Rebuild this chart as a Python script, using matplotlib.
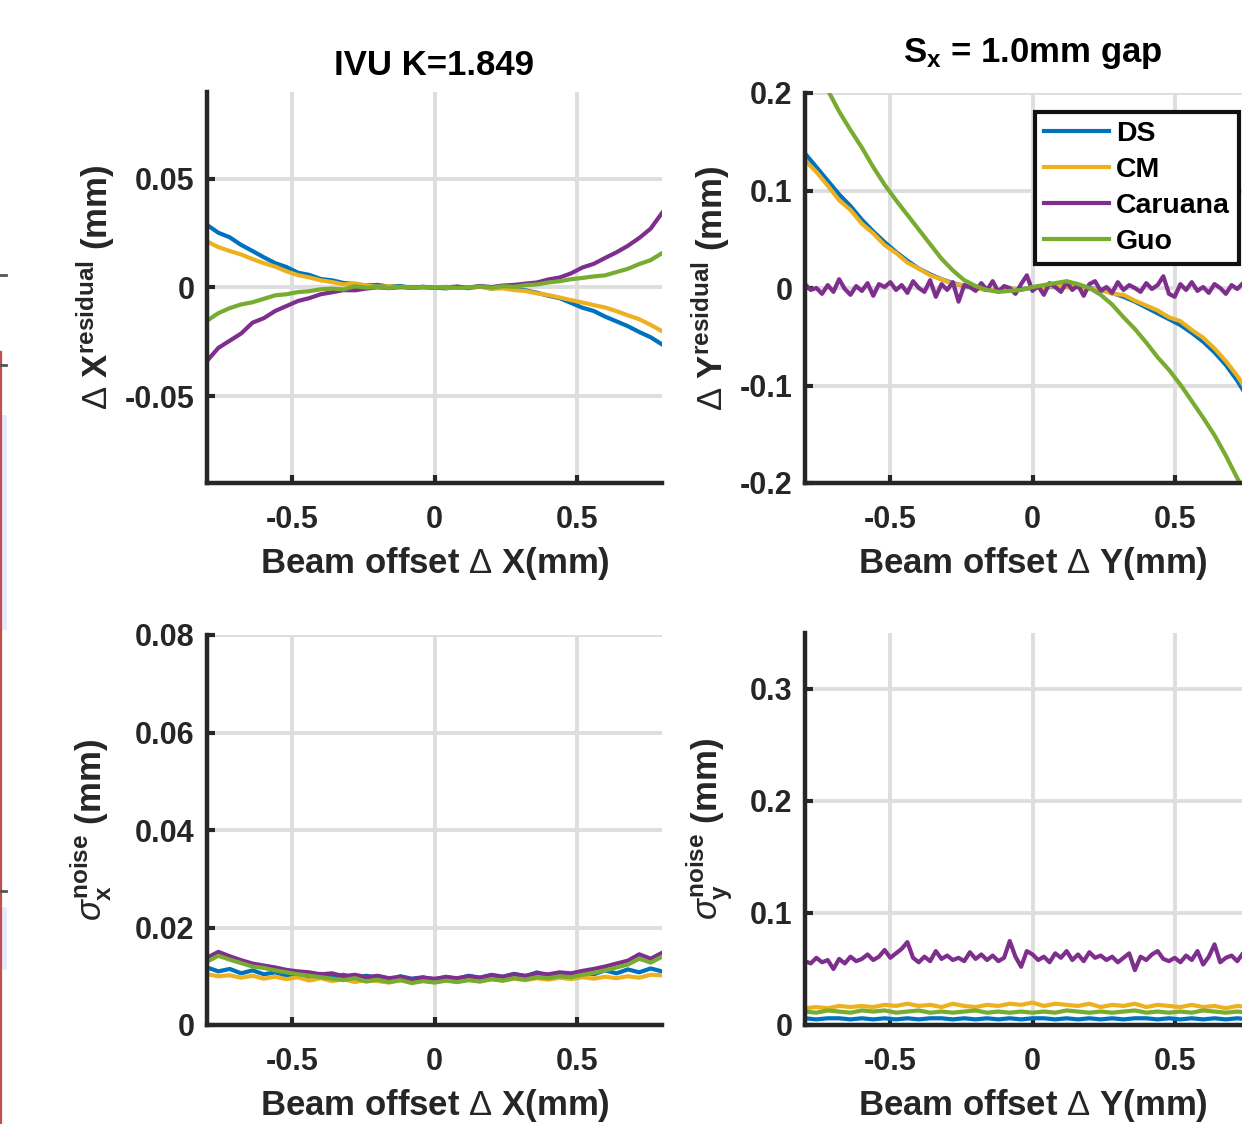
import numpy as np
import matplotlib
matplotlib.use('Agg')
from matplotlib import pyplot as plt
from matplotlib.lines import Line2D
from matplotlib.patches import Rectangle

# sample positions (mm)
x = [-0.80, -0.76, -0.72, -0.68, -0.64, -0.60, -0.56, -0.52, -0.48, -0.44,
     -0.40, -0.36, -0.32, -0.28, -0.24, -0.20, -0.16, -0.12, -0.08, -0.04,
     0.00, 0.04, 0.08, 0.12, 0.16, 0.20, 0.24, 0.28, 0.32, 0.36,
     0.40, 0.44, 0.48, 0.52, 0.56, 0.60, 0.64, 0.68, 0.72, 0.76, 0.80]
x_fine = [-0.80, -0.78, -0.76, -0.74, -0.72, -0.70, -0.68, -0.66, -0.64, -0.62,
          -0.60, -0.58, -0.56, -0.54, -0.52, -0.50, -0.48, -0.46, -0.44, -0.42,
          -0.40, -0.38, -0.36, -0.34, -0.32, -0.30, -0.28, -0.26, -0.24, -0.22,
          -0.20, -0.18, -0.16, -0.14, -0.12, -0.10, -0.08, -0.06, -0.04, -0.02,
          0.00, 0.02, 0.04, 0.06, 0.08, 0.10, 0.12, 0.14, 0.16, 0.18,
          0.20, 0.22, 0.24, 0.26, 0.28, 0.30, 0.32, 0.34, 0.36, 0.38,
          0.40, 0.42, 0.44, 0.46, 0.48, 0.50, 0.52, 0.54, 0.56, 0.58,
          0.60, 0.62, 0.64, 0.66, 0.68, 0.70, 0.72, 0.74, 0.76, 0.78, 0.80]

# residual in x (top left)
resx_ds = [0.0288, 0.0252, 0.0231, 0.0196, 0.0168, 0.0139, 0.0112, 0.0094, 0.0068, 0.0058,
           0.0039, 0.0033, 0.0021, 0.0016, 0.0009, 0.0012, 0.0004, 0.0007, -0.0002, 0.0003,
           0.0000, -0.0004, 0.0002, -0.0003, 0.0006, -0.0005, 0.0002, -0.0009, -0.0013, -0.0024,
           -0.0038, -0.0049, -0.0071, -0.0093, -0.0108, -0.0134, -0.0156, -0.0178, -0.0205, -0.0229, -0.0262]
resx_cm = [0.0212, 0.0186, 0.0168, 0.0152, 0.0131, 0.0112, 0.0096, 0.0074, 0.0057, 0.0046,
           0.0033, 0.0025, 0.0014, 0.0019, 0.0008, 0.0004, 0.0006, 0.0001, 0.0003, -0.0002,
           0.0001, -0.0003, 0.0004, -0.0002, 0.0003, -0.0006, -0.0004, -0.0012, -0.0016, -0.0027,
           -0.0035, -0.0046, -0.0058, -0.0069, -0.0081, -0.0092, -0.0109, -0.0128, -0.0146, -0.0172, -0.0201]
resx_car = [-0.0338, -0.0278, -0.0245, -0.0212, -0.0162, -0.0141, -0.0108, -0.0085, -0.0062, -0.0049,
            -0.0031, -0.0022, -0.0012, -0.0013, -0.0005, 0.0001, -0.0003, 0.0002, -0.0001, 0.0003,
            -0.0002, 0.0001, 0.0004, -0.0001, 0.0007, 0.0002, 0.0009, 0.0012, 0.0018, 0.0023,
            0.0037, 0.0046, 0.0065, 0.0092, 0.0109, 0.0136, 0.0162, 0.0192, 0.0228, 0.0271, 0.0343]
resx_guo = [-0.0153, -0.0118, -0.0095, -0.0078, -0.0068, -0.0052, -0.0036, -0.0031, -0.0021, -0.0017,
            -0.0008, -0.0005, -0.0009, 0.0006, -0.0001, 0.0003, -0.0002, 0.0004, -0.0001, 0.0002,
            -0.0001, 0.0003, -0.0002, 0.0001, 0.0005, -0.0001, 0.0006, 0.0003, 0.0011, 0.0014,
            0.0023, 0.0029, 0.0038, 0.0044, 0.0051, 0.0056, 0.0071, 0.0086, 0.0108, 0.0126, 0.0158]

# residual in y (top right)
resy_ds = [0.138, 0.124, 0.110, 0.096, 0.084, 0.070, 0.058, 0.047, 0.037, 0.028,
           0.020, 0.014, 0.009, 0.005, 0.002, 0.000, -0.002, -0.002, -0.001, -0.001,
           0.000, 0.001, 0.002, 0.002, 0.001, 0.000, -0.002, -0.005, -0.009, -0.014,
           -0.020, -0.026, -0.032, -0.038, -0.046, -0.055, -0.066, -0.079, -0.095, -0.114, -0.134]
resy_cm = [0.131, 0.119, 0.105, 0.090, 0.080, 0.066, 0.056, 0.044, 0.036, 0.026,
           0.020, 0.013, 0.009, 0.004, 0.003, -0.001, -0.001, -0.003, 0.000, -0.002,
           0.001, 0.000, 0.003, 0.001, 0.002, -0.001, -0.001, -0.006, -0.007, -0.013,
           -0.018, -0.023, -0.030, -0.034, -0.043, -0.051, -0.062, -0.075, -0.090, -0.108, -0.127]
resy_car = [0.004, -0.002, 0.000, -0.006, 0.003, -0.004, 0.009, -0.001, -0.007, 0.002,
            -0.003, 0.005, -0.008, 0.004, 0.001, 0.006, -0.002, 0.003, -0.005, 0.007,
            0.000, -0.004, 0.008, -0.009, 0.004, -0.002, 0.006, -0.014, 0.003, 0.001,
            -0.003, 0.005, -0.002, 0.007, -0.004, 0.002, 0.000, -0.006, 0.004, 0.013,
            -0.003, 0.002, -0.007, 0.005, 0.001, -0.004, 0.006, -0.002, 0.003, -0.008,
            0.004, 0.007, -0.003, 0.001, -0.005, 0.006, -0.002, 0.003, 0.000, -0.004,
            0.005, -0.001, 0.003, 0.012, -0.006, -0.009, 0.004, -0.002, 0.006, -0.003,
            0.001, -0.005, 0.004, 0.000, -0.006, 0.003, -0.001, 0.005, -0.004, 0.002, -0.003]
resy_guo = [0.248, 0.225, 0.203, 0.181, 0.162, 0.144, 0.124, 0.106, 0.090, 0.075,
            0.060, 0.045, 0.030, 0.018, 0.008, 0.002, -0.002, -0.004, -0.003, -0.002,
            0.001, 0.003, 0.005, 0.007, 0.004, 0.000, -0.007, -0.017, -0.030, -0.042,
            -0.056, -0.071, -0.084, -0.099, -0.116, -0.133, -0.151, -0.172, -0.195, -0.216, -0.240]

# noise in x (bottom left)
nx_ds = [0.0118, 0.0110, 0.0115, 0.0106, 0.0112, 0.0104, 0.0108, 0.0101, 0.0107, 0.0099,
         0.0105, 0.0098, 0.0103, 0.0096, 0.0101, 0.0097, 0.0093, 0.0100, 0.0095, 0.0098,
         0.0093, 0.0099, 0.0095, 0.0101, 0.0097, 0.0103, 0.0099, 0.0105, 0.0100, 0.0108,
         0.0102, 0.0106, 0.0100, 0.0109, 0.0104, 0.0112, 0.0106, 0.0114, 0.0108, 0.0116, 0.0110]
nx_cm = [0.0104, 0.0100, 0.0102, 0.0097, 0.0101, 0.0095, 0.0099, 0.0094, 0.0098, 0.0091,
         0.0096, 0.0090, 0.0094, 0.0088, 0.0093, 0.0090, 0.0087, 0.0092, 0.0089, 0.0091,
         0.0088, 0.0092, 0.0089, 0.0093, 0.0090, 0.0094, 0.0091, 0.0095, 0.0092, 0.0096,
         0.0093, 0.0097, 0.0094, 0.0098, 0.0095, 0.0099, 0.0096, 0.0100, 0.0097, 0.0103, 0.0102]
nx_car = [0.0138, 0.0150, 0.0141, 0.0133, 0.0126, 0.0122, 0.0118, 0.0113, 0.0110, 0.0108,
          0.0104, 0.0106, 0.0100, 0.0103, 0.0098, 0.0101, 0.0096, 0.0099, 0.0094, 0.0097,
          0.0095, 0.0098, 0.0096, 0.0100, 0.0097, 0.0102, 0.0099, 0.0104, 0.0101, 0.0106,
          0.0104, 0.0108, 0.0106, 0.0111, 0.0115, 0.0120, 0.0126, 0.0132, 0.0145, 0.0136, 0.0148]
nx_guo = [0.0130, 0.0142, 0.0134, 0.0127, 0.0120, 0.0117, 0.0112, 0.0108, 0.0104, 0.0101,
          0.0098, 0.0095, 0.0092, 0.0096, 0.0089, 0.0093, 0.0088, 0.0092, 0.0086, 0.0090,
          0.0087, 0.0091, 0.0088, 0.0092, 0.0089, 0.0094, 0.0091, 0.0096, 0.0093, 0.0098,
          0.0096, 0.0100, 0.0098, 0.0103, 0.0107, 0.0112, 0.0118, 0.0124, 0.0136, 0.0128, 0.0140]

# noise in y (bottom right)
ny_ds = [0.006, 0.005, 0.006, 0.006, 0.005, 0.006, 0.005, 0.006, 0.005, 0.006,
         0.005, 0.006, 0.006, 0.005, 0.006, 0.005, 0.006, 0.005, 0.006, 0.005,
         0.006, 0.006, 0.005, 0.006, 0.005, 0.006, 0.005, 0.006, 0.005, 0.006,
         0.006, 0.005, 0.006, 0.005, 0.006, 0.005, 0.006, 0.005, 0.006, 0.005, 0.006]
ny_cm = [0.015, 0.016, 0.015, 0.017, 0.016, 0.017, 0.016, 0.018, 0.017, 0.019,
         0.017, 0.018, 0.016, 0.019, 0.017, 0.016, 0.018, 0.017, 0.019, 0.018,
         0.020, 0.017, 0.019, 0.018, 0.017, 0.019, 0.016, 0.018, 0.017, 0.019,
         0.016, 0.018, 0.017, 0.016, 0.018, 0.016, 0.017, 0.015, 0.017, 0.016, 0.017]
ny_car = [0.057, 0.055, 0.060, 0.056, 0.058, 0.050, 0.059, 0.055, 0.061, 0.057,
          0.059, 0.063, 0.058, 0.061, 0.067, 0.060, 0.064, 0.068, 0.074, 0.060,
          0.056, 0.061, 0.057, 0.066, 0.059, 0.062, 0.058, 0.060, 0.057, 0.065,
          0.059, 0.063, 0.058, 0.062, 0.057, 0.060, 0.075, 0.061, 0.052, 0.066,
          0.063, 0.058, 0.061, 0.056, 0.064, 0.060, 0.066, 0.058, 0.063, 0.057,
          0.065, 0.060, 0.062, 0.058, 0.061, 0.056, 0.060, 0.064, 0.049, 0.061,
          0.058, 0.063, 0.066, 0.059, 0.057, 0.060, 0.056, 0.062, 0.058, 0.066,
          0.054, 0.061, 0.072, 0.056, 0.060, 0.062, 0.057, 0.064, 0.058, 0.060, 0.059]
ny_guo = [0.012, 0.011, 0.013, 0.012, 0.011, 0.013, 0.012, 0.013, 0.011, 0.012,
          0.013, 0.011, 0.012, 0.011, 0.012, 0.013, 0.011, 0.012, 0.011, 0.012,
          0.011, 0.012, 0.011, 0.013, 0.012, 0.011, 0.012, 0.011, 0.012, 0.013,
          0.011, 0.012, 0.011, 0.012, 0.011, 0.013, 0.012, 0.011, 0.012, 0.011, 0.012]

names = ['DS', 'CM', 'Caruana', 'Guo']
colors = ['#0072BD', '#EDB120', '#7E2F8E', '#77AC30']

plt.rcParams['font.family'] = ['Liberation Sans', 'DejaVu Sans']
plt.rcParams['font.weight'] = 'bold'
plt.rcParams['mathtext.fontset'] = 'custom'
plt.rcParams['mathtext.rm'] = 'Liberation Sans:weight=normal'
plt.rcParams['mathtext.bf'] = 'Liberation Sans:bold'
plt.rcParams['mathtext.it'] = 'Liberation Sans:italic:weight=normal'
plt.rcParams['mathtext.default'] = 'bf'

W, H = 1242, 1124
fig = plt.figure(figsize=(W / 100, H / 100), dpi=100)
axc = '#262626'
lw = 3.0


def make_ax(left_px, top_px, bottom_px, ylim, yticks, ylabels):
    ax = fig.add_axes([left_px / W, 1 - bottom_px / H, 455 / W, (bottom_px - top_px) / H])
    ax.set_xlim(-0.8, 0.8)
    ax.set_ylim(*ylim)
    ax.set_xticks([-0.5, 0, 0.5])
    ax.set_xticklabels(['-0.5', '0', '0.5'])
    ax.set_yticks(yticks)
    ax.set_yticklabels(ylabels)
    ax.grid(True, color='#dedede', lw=2.8)
    ax.set_axisbelow(True)
    for s in ['top', 'right']:
        ax.spines[s].set_visible(False)
    for s in ['left', 'bottom']:
        ax.spines[s].set_color(axc)
        ax.spines[s].set_linewidth(3.2)
    ax.tick_params(direction='in', length=6, width=3, colors=axc, labelsize=22, pad=9,
                   labelcolor=axc)
    ax.tick_params(axis='x', pad=16)
    for lab in ax.get_xticklabels() + ax.get_yticklabels():
        lab.set_fontweight('bold')
    return ax


ax1 = make_ax(207, 92, 483, (-0.09, 0.09), [-0.05, 0, 0.05], ['-0.05', '0', '0.05'])
ax2 = make_ax(805, 93, 483, (-0.2, 0.2), [-0.2, -0.1, 0, 0.1, 0.2],
              ['-0.2', '-0.1', '0', '0.1', '0.2'])
ax3 = make_ax(207, 635, 1025, (0, 0.08), [0, 0.02, 0.04, 0.06, 0.08],
              ['0', '0.02', '0.04', '0.06', '0.08'])
ax4 = make_ax(805, 633, 1025, (0, 0.35), [0, 0.1, 0.2, 0.3], ['0', '0.1', '0.2', '0.3'])

for series, c in zip([resx_ds, resx_cm, resx_car, resx_guo], colors):
    ax1.plot(x, series, color=c, lw=lw)

xs2 = [x, x, x_fine, x]
for xx, series, c, n in zip(xs2, [resy_ds, resy_cm, resy_car, resy_guo], colors, names):
    ax2.plot(xx, series, color=c, lw=lw, label=n)

for series, c in zip([nx_ds, nx_cm, nx_car, nx_guo], colors):
    ax3.plot(x, series, color=c, lw=lw)

xs4 = [x, x, x_fine, x]
for xx, series, c in zip(xs4, [ny_ds, ny_cm, ny_car, ny_guo], colors):
    ax4.plot(xx, series, color=c, lw=lw)

lab_fs = 25
dlt = r'$\mathrm{\Delta}$'
for ax, v in [(ax1, 'X'), (ax2, 'Y'), (ax3, 'X'), (ax4, 'Y')]:
    ax.set_xlabel('Beam offset ' + dlt + ' ' + v + '(mm)', fontsize=lab_fs,
                  fontweight='bold', color=axc, labelpad=7)

ax1.set_ylabel(dlt + r' X$^{residual}$ (mm)', fontsize=lab_fs, fontweight='bold', color=axc)
ax2.set_ylabel(dlt + r' Y$^{residual}$ (mm)', fontsize=lab_fs, fontweight='bold', color=axc)
ax3.set_ylabel(r'$\mathit{\sigma}_{x}^{noise}$ (mm)', fontsize=lab_fs, fontweight='bold', color=axc)
ax4.set_ylabel(r'$\mathit{\sigma}_{y}^{noise}$ (mm)', fontsize=lab_fs, fontweight='bold', color=axc)
ax1.yaxis.set_label_coords(-0.198, 0.5)
ax2.yaxis.set_label_coords(-0.16, 0.5)
ax3.yaxis.set_label_coords(-0.206, 0.5)
ax4.yaxis.set_label_coords(-0.154, 0.5)

ax1.set_title('IVU K=1.849', fontsize=lab_fs, fontweight='bold', pad=12)
ax2.set_title(r'S$_{x}$ = 1.0mm gap', fontsize=lab_fs, fontweight='bold', pad=22)

leg = ax2.legend(loc='upper left', bbox_to_anchor=(1035 / W, 1 - 112 / H),
                 bbox_transform=fig.transFigure, borderaxespad=0, fontsize=20.5,
                 handlelength=2.3, handletextpad=0.25, labelspacing=0.36,
                 borderpad=0.3, fancybox=False, framealpha=1, edgecolor='#111111')
leg.get_frame().set_linewidth(3)
for t in leg.get_texts():
    t.set_fontweight('bold')

# remnants of a neighbouring panel at the left edge
fig.add_artist(Line2D([1 / W, 1 / W], [0, 1 - 352 / H], color='#c0504d', lw=1.6))
for yy in [275, 365, 891]:
    fig.add_artist(Line2D([0, 6 / W], [1 - yy / H, 1 - yy / H], color='#555555', lw=2))
for y0, y1 in [(415, 630), (907, 970)]:
    fig.add_artist(Rectangle((2 / W, 1 - y1 / H), 5 / W, (y1 - y0) / H,
                             color='#e8e8ff', lw=0))

fig.savefig('out.png', dpi=100)
